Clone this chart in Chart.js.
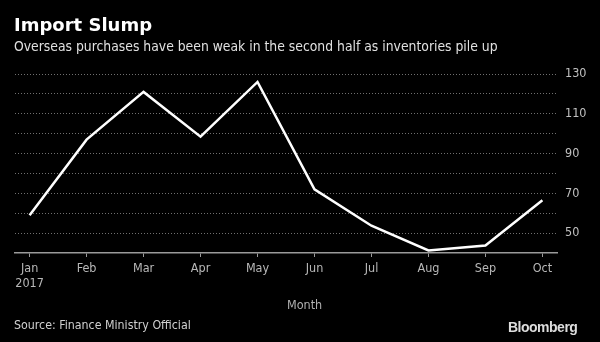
<!DOCTYPE html>
<html>
<head>
<meta charset="utf-8">
<script src="https://cdn.jsdelivr.net/npm/chart.js@4/dist/chart.umd.min.js"></script>
<style>
  html, body { margin: 0; padding: 0; background: #000; }
  #wrap { position: relative; width: 600px; height: 342px; background: #000; overflow: hidden; }
  #c { position: absolute; left: 0; top: 0; }
  .t { position: absolute; white-space: nowrap; }
  #title { left: 14px; top: 14px; font: bold 18px "DejaVu Sans"; color: #fff; }
  #sub { left: 14px; top: 38px; font: 13.8px "DejaVu Sans Condensed"; color: #e0e0e0; }
  #xt { left: 287px; top: 297px; font: 12.5px "DejaVu Sans Condensed"; color: #b0b0b0; }
  #src { left: 14px; top: 318px; font: 12.3px "DejaVu Sans Condensed"; color: #d0d0d0; }
  #bb { left: 508px; top: 319px; font: bold 14px "Liberation Sans"; color: #ddd; letter-spacing: -0.5px; }
</style>
</head>
<body>
<div id="wrap">
  <canvas id="c" width="600" height="342"></canvas>
  <div class="t" id="title">Import Slump</div>
  <div class="t" id="sub">Overseas purchases have been weak in the second half as inventories pile up</div>
  <div class="t" id="xt">Month</div>
  <div class="t" id="src">Source: Finance Ministry Official</div>
  <div class="t" id="bb">Bloomberg</div>
</div>
<script>
const months = ['Jan', 'Feb', 'Mar', 'Apr', 'May', 'Jun', 'Jul', 'Aug', 'Sep', 'Oct'];
const yearLabel = '2017';
const imports = [59, 97, 121, 98.5, 126, 72, 53.7, 41.3, 43.8, 66.5];
const yTickLabels = [50, 70, 90, 110, 130];

const points = imports.map((v, i) => ({ x: i, y: v }));

new Chart(document.getElementById('c'), {
  type: 'line',
  data: {
    datasets: [{
      data: points,
      borderColor: '#ffffff',
      borderWidth: 2.5,
      pointRadius: 0,
      tension: 0,
      fill: false
    }]
  },
  options: {
    responsive: false,
    animation: false,
    devicePixelRatio: 1,
    layout: { padding: { left: 15, top: 74, right: 0, bottom: 0 } },
    plugins: { legend: { display: false }, tooltip: { enabled: false } },
    scales: {
      x: {
        type: 'linear',
        min: -0.256,
        max: 9.256,
        afterBuildTicks: (s) => { s.ticks = months.map((_, i) => ({ value: i })); },
        afterFit: (s) => { s.height = 89; },
        border: { display: true, color: '#9a9a9a', width: 1.5 },
        grid: { display: true, drawOnChartArea: false, drawTicks: true, tickLength: 4, color: '#9a9a9a', lineWidth: 1 },
        ticks: {
          autoSkip: false,
          maxRotation: 0,
          padding: 4,
          color: '#b8b8b8',
          font: { family: 'DejaVu Sans Condensed', size: 12.5 },
          callback: (v) => (v === 0 ? [months[0], yearLabel] : months[v])
        }
      },
      y: {
        position: 'right',
        min: 40,
        max: 130,
        afterFit: (s) => { s.width = 43; },
        border: { display: false, dash: [1, 2] },
        grid: {
          drawTicks: false,
          color: (ctx) => (ctx.tick && ctx.tick.value === 40 ? 'rgba(0,0,0,0)' : '#707070'),
          lineWidth: 1
        },
        ticks: {
          stepSize: 10,
          padding: 8,
          color: '#c0c0c0',
          font: { family: 'DejaVu Sans Condensed', size: 12.5 },
          callback: (v) => (yTickLabels.includes(v) ? String(v) : '')
        }
      }
    }
  }
});
</script>
</body>
</html>
